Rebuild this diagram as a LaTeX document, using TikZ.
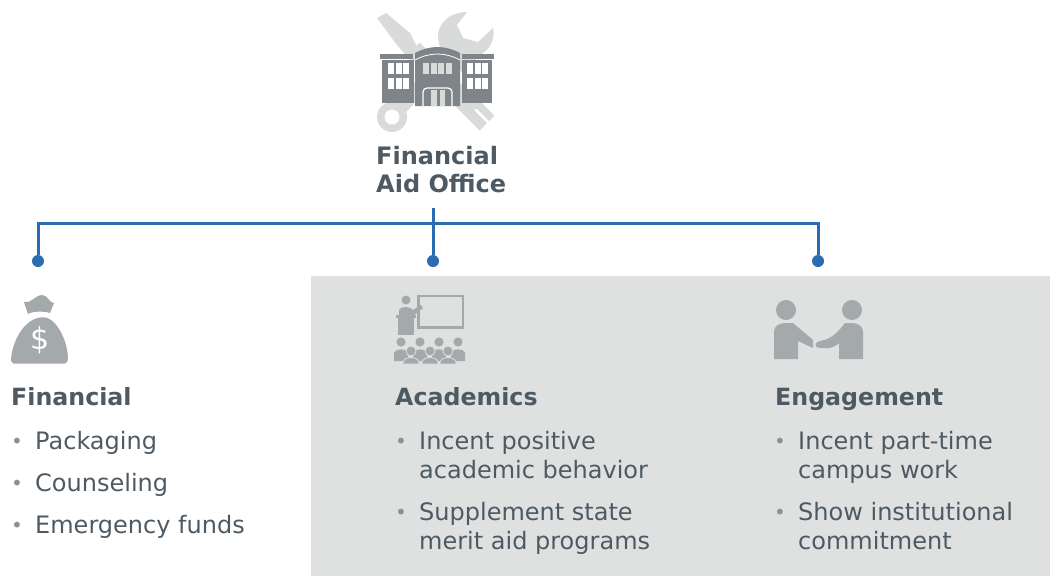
\documentclass[tikz,border=0pt]{standalone}
\usepackage{fontspec}
\setmainfont{DejaVu Sans}
\definecolor{inktext}{HTML}{4E5A63}
\definecolor{bullettext}{HTML}{8A9197}
\definecolor{linkblue}{HTML}{2B6CB0}
\definecolor{panelgrey}{HTML}{DFE1E1}
\definecolor{icongrey}{HTML}{A4A9AC}
\definecolor{bldggrey}{HTML}{7E8487}
\definecolor{toolgrey}{HTML}{D9DBDB}
\begin{document}
\begin{tikzpicture}
[x=1pt,y=-1pt,
head/.style={anchor=base west,inner sep=0pt,font=\fontsize{23.7}{29}\selectfont\bfseries,text=inktext},
item/.style={anchor=base west,inner sep=0pt,align=left,font=\fontsize{24}{29}\selectfont,text=inktext},
bull/.style={anchor=base west,inner sep=0pt,font=\fontsize{20}{29}\selectfont,text=bullettext},
dot/.style={circle,fill=linkblue,inner sep=0pt,minimum size=12pt},
link/.style={draw=linkblue,line width=3pt}]
	\useasboundingbox (0,0) rectangle (1050,576);
	\fill[panelgrey] (311,276) rectangle (1050,576);

	\draw[toolgrey,line width=13pt] (415,47) -- (470,102);
	\fill[toolgrey] (377,18) -- (386,13) -- (410,33) -- (417,47) -- (425,55) -- (412,62) -- (397,45) -- cycle;
	\draw[toolgrey,line width=21pt] (458,94) -- (487,123);
	\draw[white,line width=2.5pt,line cap=round] (476,110) -- (488,122);
	\draw[toolgrey,line width=14pt] (392,117) -- (450,55);
	\fill[toolgrey] (467,12) .. controls (448,12) and (438,25) .. (438,36) .. controls (438,45) and (442,52) .. (445,56) -- (462,72) -- (483,53) .. controls (492,47) and (495,37) .. (493,28) -- (478,42) -- (463,38) -- (457,25) -- cycle;
	\fill[toolgrey] (392,117) circle (15);
	\fill[white] (392,117) circle (7.5);

	\fill[bldggrey] (382,60) rectangle (414,103);
	\fill[bldggrey] (462,60) rectangle (492,103);
	\fill[bldggrey] (380,54) rectangle (413,59);
	\fill[bldggrey] (462,54) rectangle (494,59);
	\fill[bldggrey] (415,53) .. controls (430,45) and (445,45) .. (460,53) -- (460,106) -- (415,106) -- cycle;
	\draw[white,line width=.8pt] (415,60) .. controls (430,52) and (445,52) .. (460,60);
	\foreach \wx in {388,395.5,403}
		\foreach \wy in {63,78}
			\fill[white] (\wx,\wy) rectangle ++(6,10.5);
	\foreach \wx in {467,474.5,482}
		\foreach \wy in {63,78}
			\fill[white] (\wx,\wy) rectangle ++(6,10.5);
	\foreach \wx in {423,430.5,438,445.5}
		\fill[toolgrey] (\wx,63) rectangle ++(6,11);
	\draw[white,line width=1.2pt,rounded corners=4pt] (423,106) -- (423,88) -- (452,88) -- (452,106);
	\fill[toolgrey] (431,90) rectangle (445,106);
	\fill[bldggrey] (436.5,90) rectangle (439.5,106);

	\fill[icongrey,rounded corners=2pt] (11.5,363.5) .. controls (10,350) and (20,320) .. (43,317) .. controls (60,320) and (70,350) .. (67,363.5) -- cycle;
	\fill[icongrey] (24,302) .. controls (30,304) and (36,295) .. (42,295) .. controls (48,295) and (49,303) .. (54,303) -- (50,313) .. controls (44,311) and (33,311) .. (28,314) -- cycle;
	\node[inner sep=0pt,text=white,font=\fontsize{30}{30}\selectfont] (dollar) at (40,340) {\$};

	\draw[icongrey,line width=2.4pt] (418.5,296) rectangle (463,327.5);
	\fill[icongrey] (406,300) circle (4.5);
	\fill[icongrey] (399,315) -- (399,310) .. controls (400,306) and (411,306) .. (413,310) -- (421,305) -- (423,308) -- (413,316) -- (413,315) -- cycle;
	\fill[icongrey] (396,315) rectangle (416,318);
	\fill[icongrey] (398,318) -- (414,318) -- (414,335) -- (398,335) -- cycle;
	\foreach \hx in {401,420,439,458}
	{
		\fill[icongrey] (\hx,342) circle (4.6);
		\fill[icongrey] (\hx-7,361) -- (\hx-7,353) .. controls (\hx-6,348) and (\hx+6,348) .. (\hx+7,353) -- (\hx+7,361) -- cycle;
	}
	\foreach \hx in {411,430,448}
	{
		\fill[icongrey,draw=panelgrey,line width=.8pt] (\hx,351) circle (5);
		\fill[icongrey,draw=panelgrey,line width=.8pt] (\hx-8,364) -- (\hx-8,362) .. controls (\hx-6,356) and (\hx+6,356) .. (\hx+8,362) -- (\hx+8,364) -- cycle;
	}

	\fill[icongrey] (786,310) circle (10);
	\fill[icongrey] (852,310) circle (10);
	\fill[icongrey] (774,332) .. controls (774,326) and (779,323) .. (786,323) -- (793,323) -- (813,340) -- (813,348) -- (798,341) -- (798,359) -- (774,359) -- cycle;
	\fill[icongrey] (863,332) .. controls (863,326) and (858,323) .. (852,323) -- (845,323) .. controls (838,332) and (832,339) .. (820,341) .. controls (814,342) and (814,348) .. (820,348) .. controls (830,349) and (835,347) .. (839,343) -- (839,359) -- (863,359) -- cycle;

	\node[inner sep=0pt,anchor=base west,align=left,text=inktext,font=\fontsize{24}{28}\selectfont\bfseries] (office) at (376,192) {Financial\\Aid Office};

	\node[dot] (findot) at (38,261) {};
	\node[dot] (acadot) at (433,261) {};
	\node[dot] (engdot) at (818,261) {};
	\coordinate (officeend) at (433,208);
	\coordinate (busleft) at (38,223);
	\draw[link] (officeend) -- (acadot);
	\draw[link] (findot) -- (busleft) -| (engdot);

	\node[head] (finhead) at (11,405) {Financial};
	\node[bull] (finbulla) at (11,448) {•};
	\node[item] (finitema) at (35,449) {Packaging};
	\node[bull] (finbullb) at (11,490) {•};
	\node[item] (finitemb) at (35,491) {Counseling};
	\node[bull] (finbullc) at (11,532) {•};
	\node[item] (finitemc) at (35,533) {Emergency funds};

	\node[head] (acahead) at (395,405) {Academics};
	\node[bull] (acabulla) at (395,448) {•};
	\node[item] (acaitema) at (419,478) {Incent positive\\academic behavior};
	\node[bull] (acabullb) at (395,519) {•};
	\node[item] (acaitemb) at (419,549) {Supplement state\\merit aid programs};

	\node[head] (enghead) at (775,405) {Engagement};
	\node[bull] (engbulla) at (774,448) {•};
	\node[item] (engitema) at (798,478) {Incent part-time\\campus work};
	\node[bull] (engbullb) at (774,519) {•};
	\node[item] (engitemb) at (798,549) {Show institutional\\commitment};
\end{tikzpicture}
\end{document}
